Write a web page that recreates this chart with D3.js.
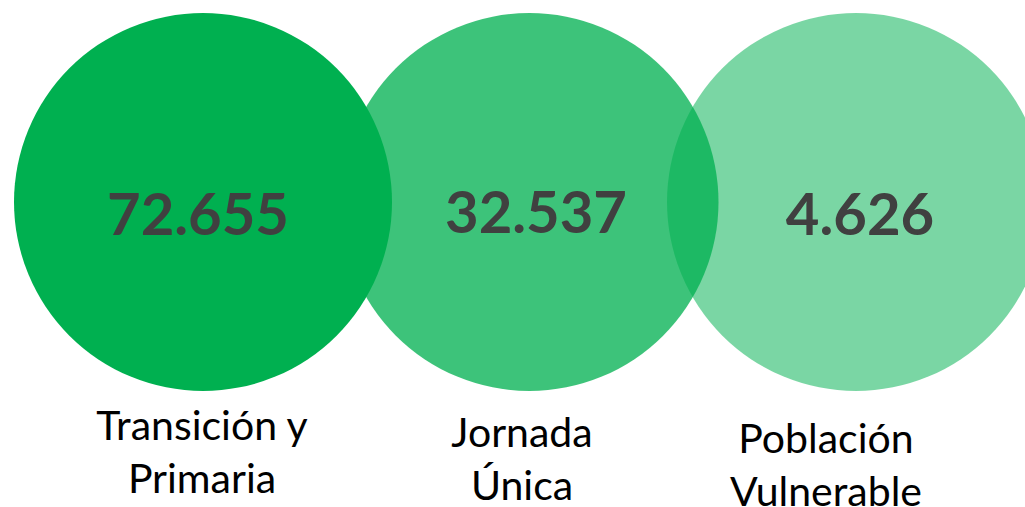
<!DOCTYPE html>
<html>
<head>
<meta charset="utf-8">
<script src="https://cdn.jsdelivr.net/npm/d3@7"></script>
<style>
  html, body { margin: 0; padding: 0; background: #ffffff; }
  svg { display: block; }
</style>
</head>
<body>
<script>
// ---- data ----
const categories = ["Transición y Primaria", "Jornada Única", "Población Vulnerable"];
const labelLines = [["Transición y", "Primaria"], ["Jornada", "Única"], ["Población", "Vulnerable"]];
const values = [72655, 32537, 4626];
const opacities = [1, 0.76, 0.52];

// ---- layout ----
const W = 1025, H = 507;
const R = 189;
const cy = 202;
const numDx = [-5, 6.5, 4];
const numBaseline = [235, 233, 235];
const labDx = [-1, -7.5, -30];
const labBaseline = [440, 447, 453];
const lineGap = 53;

const fmt = d3.formatLocale({decimal: ",", thousands: ".", grouping: [3], currency: ["$", ""]}).format(",");

const x = d3.scalePoint().domain(categories).range([203, 856]);

const svg = d3.select("body").append("svg").attr("width", W).attr("height", H);

const data = categories.map((c, i) => ({c, i, v: values[i], lines: labelLines[i], op: opacities[i]}));

// draw circles: later ones first so the first (opaque) lies on top
svg.append("g").selectAll("circle")
  .data(data.slice().reverse())
  .join("circle")
  .attr("cx", d => x(d.c))
  .attr("cy", cy)
  .attr("r", R)
  .attr("fill", "#00B050")
  .attr("fill-opacity", d => d.op);

svg.append("g").selectAll("text")
  .data(data)
  .join("text")
  .attr("x", d => x(d.c) + numDx[d.i])
  .attr("y", d => numBaseline[d.i])
  .attr("text-anchor", "middle")
  .attr("font-family", "Lato, 'Open Sans', sans-serif")
  .attr("font-weight", "bold")
  .attr("font-size", 58)
  .attr("fill", "#404040")
  .text(d => fmt(d.v));

const lab = svg.append("g").selectAll("text")
  .data(data)
  .join("text")
  .attr("text-anchor", "middle")
  .attr("font-family", "Lato, 'Open Sans', sans-serif")
  .attr("font-size", 41)
  .attr("fill", "#000000");

lab.selectAll("tspan")
  .data(d => d.lines.map((t, k) => ({t, k, d})))
  .join("tspan")
  .attr("x", o => x(o.d.c) + labDx[o.d.i])
  .attr("y", o => labBaseline[o.d.i] + o.k * lineGap)
  .text(o => o.t);
</script>
</body>
</html>
